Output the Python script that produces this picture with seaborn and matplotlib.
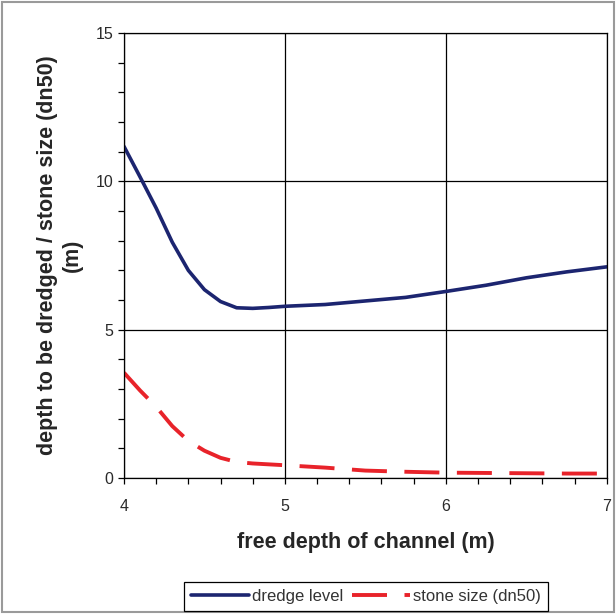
import pandas as pd
import numpy as np
import matplotlib
matplotlib.use('Agg')
import matplotlib.pyplot as plt
from matplotlib.patches import Rectangle
from matplotlib.ticker import MultipleLocator
import seaborn as sns

# values
free_depth = [4.0, 4.1, 4.2, 4.3, 4.4, 4.5, 4.6, 4.7, 4.8, 4.9, 5.0,
              5.25, 5.5, 5.75, 6.0, 6.25, 6.5, 6.75, 7.0]
dredge_level = [11.18, 10.15, 9.1, 7.95, 7.0, 6.35, 5.95, 5.74, 5.72, 5.75, 5.79,
                5.85, 5.97, 6.09, 6.29, 6.5, 6.75, 6.95, 7.12]
stone_size = [3.55, 2.95, 2.4, 1.75, 1.25, 0.92, 0.68, 0.54, 0.49, 0.46, 0.43,
              0.35, 0.25, 0.21, 0.18, 0.17, 0.16, 0.15, 0.15]

df = pd.DataFrame({'free depth': free_depth,
                   'dredge level': dredge_level,
                   'stone size (dn50)': stone_size})

sns.set_style('white')
plt.rcParams['font.family'] = ['Liberation Sans', 'DejaVu Sans']

fig = plt.figure(figsize=(6.16, 6.14), dpi=100)
ax = fig.add_axes([0.2013, 0.2215, 0.7837, 0.7245])

sns.lineplot(data=df, x='free depth', y='dredge level', ax=ax,
             color='#1c2570', linewidth=2.6, label='dredge level')
sns.lineplot(data=df, x='free depth', y='stone size (dn50)', ax=ax,
             color='#e8232a', linewidth=2.8, label='stone size (dn50)')
ax.lines[1].set_dashes((9, 4.5))

ax.set_xlim(4, 7)
ax.set_ylim(0, 15)
ax.xaxis.set_major_locator(MultipleLocator(1))
ax.xaxis.set_minor_locator(MultipleLocator(0.2))
ax.yaxis.set_major_locator(MultipleLocator(5))
ax.yaxis.set_minor_locator(MultipleLocator(1))
ax.grid(True, which='major', color='black', linewidth=0.9)
for s in ax.spines.values():
    s.set_color('black')
    s.set_linewidth(0.9)
ax.tick_params(which='both', direction='out', length=4, width=0.9, color='black',
               bottom=True, left=True, labelsize=11.5, labelcolor='#2a2a2a')
ax.tick_params(axis='x', pad=11)

ax.set_xlabel('free depth of channel (m)', fontsize=15.5, fontweight='bold', labelpad=13)
ax.set_ylabel('depth to be dredged / stone size (dn50)\n(m)', fontsize=15.5,
              fontweight='bold', labelpad=9, linespacing=1.25)

ax.get_legend().remove()
handles, labels = ax.get_legend_handles_labels()
leg = fig.legend(handles, labels, loc='center', bbox_to_anchor=(0.594, 0.0285),
                 ncol=2, frameon=True, fancybox=False, edgecolor='black',
                 fontsize=12, handlelength=3.5, handletextpad=0.2,
                 columnspacing=0.5, borderpad=0.4, framealpha=1)
leg.get_frame().set_linewidth(0.9)
for t in leg.get_texts():
    t.set_color('#333333')

fig.patches.append(Rectangle((0.004, 0.004), 0.992, 0.992, transform=fig.transFigure,
                             fill=False, edgecolor='#9a9a9a', linewidth=1.5))

fig.savefig('out.png', dpi=100)
